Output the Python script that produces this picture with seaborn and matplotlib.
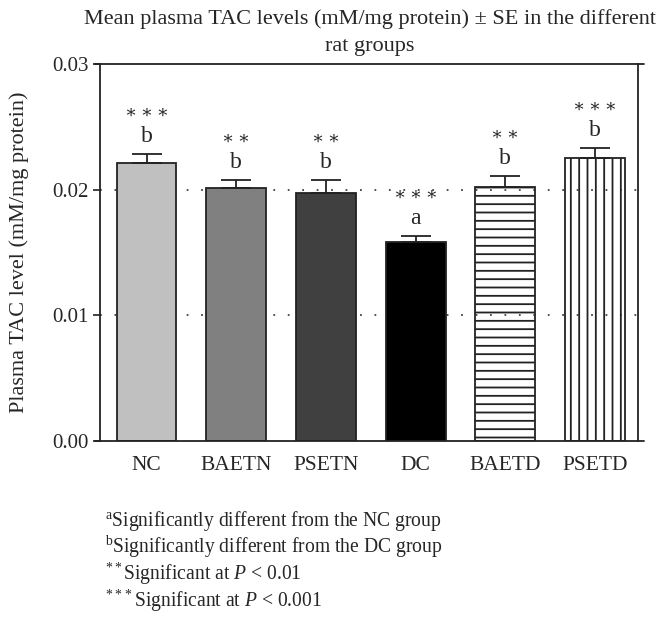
import numpy as np
import matplotlib
matplotlib.use("Agg")
import matplotlib.pyplot as plt
import seaborn as sns

# values
groups = ["NC", "BAETN", "PSETN", "DC", "BAETD", "PSETD"]
means = [0.0221, 0.0201, 0.0197, 0.0158, 0.0202, 0.0225]
se = [0.0007, 0.0007, 0.0011, 0.0005, 0.0009, 0.0008]
letters = ["b", "b", "b", "a", "b", "b"]
stars = ["***", "**", "**", "***", "**", "***"]
fills = ["#c0c0c0", "#808080", "#404040", "#000000", "#ffffff", "#ffffff"]
hatches = ["", "", "", "", "--", "||"]

sns.set_theme(style="white")
plt.rcParams["font.family"] = ["Liberation Serif", "DejaVu Serif"]
plt.rcParams["mathtext.fontset"] = "custom"
plt.rcParams["mathtext.rm"] = "Liberation Serif"
plt.rcParams["mathtext.it"] = "Liberation Serif:italic"
plt.rcParams["hatch.linewidth"] = 1.3
plt.rcParams["hatch.color"] = "#222222"

fig = plt.figure(figsize=(6.66, 6.26), dpi=100)
ax = fig.add_axes([0.150, 0.2955, 0.808, 0.6025])

sns.barplot(x=groups, y=means, hue=groups, palette=fills, width=0.667,
            edgecolor="#222222", linewidth=1.3, errorbar=None, legend=False,
            saturation=1, ax=ax)
for p, h in zip(ax.patches, hatches):
    if h:
        p.set_hatch(h)
        p.set_facecolor("none")

xs = np.arange(len(groups))
ax.errorbar(xs, means, yerr=[np.zeros(len(se)), se], fmt="none",
            ecolor="#222222", elinewidth=1.3, capsize=11, capthick=1.3, zorder=3)

# significance letters and stars
for x, m, s, let, st in zip(xs, means, se, letters, stars):
    ax.annotate(let, (x, m + s), xytext=(0, 5), textcoords="offset points",
                ha="center", va="bottom", fontsize=17)
    ax.annotate("\u2009".join("\u2217" * len(st)), (x, m + s), xytext=(0, 23),
                textcoords="offset points", ha="center", va="bottom", fontsize=13)

ax.set_xlim(-0.52, 5.48)
ax.set_ylim(0, 0.03)
ax.set_yticks([0, 0.01, 0.02, 0.03])
ax.set_yticklabels(["0.00", "0.01", "0.02", "0.03"])
for yv in [0.01, 0.02]:
    ax.axhline(yv, color="#444444", linestyle=(0, (1, 7)), linewidth=1.3, zorder=0)

ax.tick_params(axis="y", direction="out", length=5, width=1.2, left=True,
               labelsize=15, pad=3, color="#222222")
ax.tick_params(axis="x", length=0, labelsize=15.5, pad=11)
for sp in ["top", "bottom"]:
    ax.spines[sp].set_visible(False)
for sp in ["left", "right"]:
    ax.spines[sp].set_color("#222222")
    ax.spines[sp].set_linewidth(1.3)
# top and bottom frame lines run a little past the side spines
for yy in [0, 1]:
    ax.plot([-0.01, 1.012], [yy, yy], transform=ax.transAxes, color="#222222",
            linewidth=1.3, clip_on=False, zorder=5)

ax.set_ylabel("Plasma TAC level (mM/mg protein)", fontsize=16, labelpad=17)
ax.set_xlabel("")

fig.text(0.555, 0.985, "Mean plasma TAC levels (mM/mg protein) \u00b1 SE in the different\nrat groups",
         ha="center", va="top", fontsize=16, linespacing=1.55)

notes = [r"$^{\mathrm{a}}$Significantly different from the NC group",
         r"$^{\mathrm{b}}$Significantly different from the DC group",
         r"$^{**}$Significant at $P$ < 0.01",
         r"$^{***}$Significant at $P$ < 0.001"]
for i, t in enumerate(notes):
    fig.text(0.157, 0.1597 - i * 0.0431, t, ha="left", va="baseline", fontsize=14.1)

fig.savefig("out.png", dpi=100)
